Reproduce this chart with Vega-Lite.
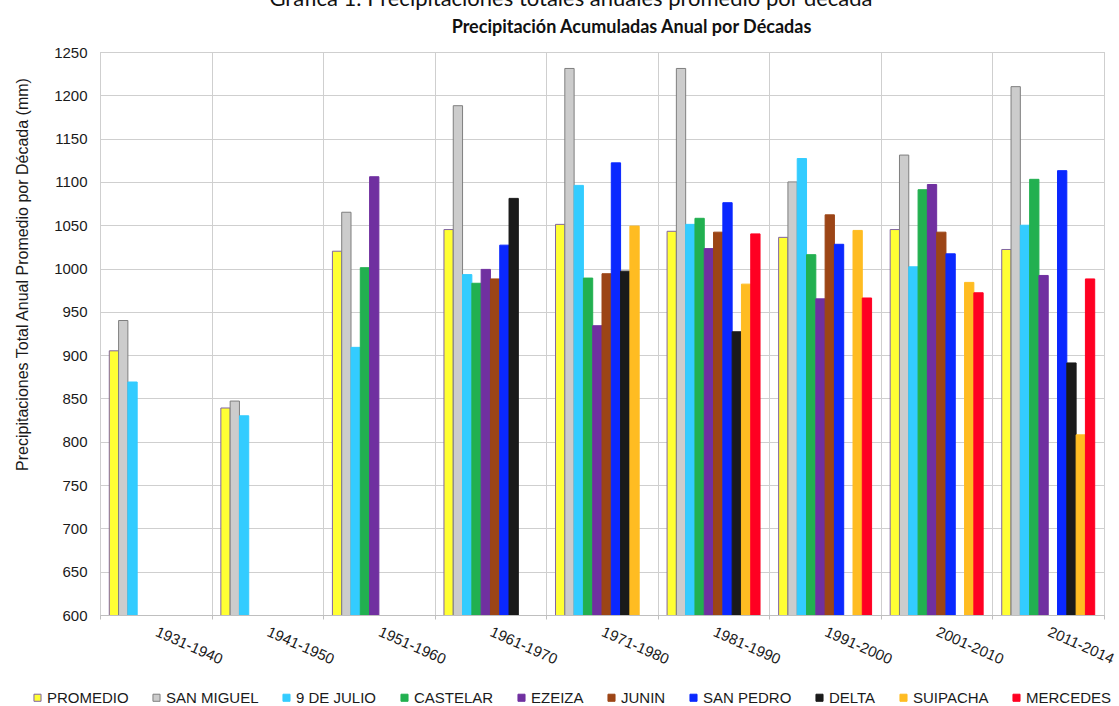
{
  "$schema": "https://vega.github.io/schema/vega-lite/v6.json",
  "autosize": {"type": "none"},
  "width": 1004,
  "height": 563,
  "padding": {"left": 100, "top": 52, "right": 15, "bottom": 91},
  "background": "white",
  "title": {
    "text": "Gráfica 1. Precipitaciones totales anuales promedio por década",
    "font": "Lato",
    "fontSize": 22,
    "fontWeight": "normal",
    "color": "#111111",
    "anchor": "middle",
    "frame": "group",
    "dx": -31,
    "offset": 7
  },
  "config": {
    "view": {"stroke": "#C4C4C4", "strokeWidth": 1},
    "axis": {
      "labelFont": "Liberation Sans",
      "titleFont": "Liberation Sans",
      "labelColor": "#1a1a1a",
      "titleColor": "#1a1a1a",
      "gridColor": "#CFCFCF",
      "gridWidth": 1,
      "domainColor": "#BFBFBF",
      "tickColor": "#BFBFBF"
    }
  },
  "data": {
    "values": [
      {"Decada": "1931-1940", "Serie": "PROMEDIO", "Valor": 905},
      {"Decada": "1931-1940", "Serie": "SAN MIGUEL", "Valor": 940},
      {"Decada": "1931-1940", "Serie": "9 DE JULIO", "Valor": 869},
      {"Decada": "1941-1950", "Serie": "PROMEDIO", "Valor": 839},
      {"Decada": "1941-1950", "Serie": "SAN MIGUEL", "Valor": 847},
      {"Decada": "1941-1950", "Serie": "9 DE JULIO", "Valor": 830},
      {"Decada": "1951-1960", "Serie": "PROMEDIO", "Valor": 1020},
      {"Decada": "1951-1960", "Serie": "SAN MIGUEL", "Valor": 1065},
      {"Decada": "1951-1960", "Serie": "9 DE JULIO", "Valor": 909},
      {"Decada": "1951-1960", "Serie": "CASTELAR", "Valor": 1001},
      {"Decada": "1951-1960", "Serie": "EZEIZA", "Valor": 1106},
      {"Decada": "1961-1970", "Serie": "PROMEDIO", "Valor": 1045},
      {"Decada": "1961-1970", "Serie": "SAN MIGUEL", "Valor": 1188},
      {"Decada": "1961-1970", "Serie": "9 DE JULIO", "Valor": 993},
      {"Decada": "1961-1970", "Serie": "CASTELAR", "Valor": 983},
      {"Decada": "1961-1970", "Serie": "EZEIZA", "Valor": 999},
      {"Decada": "1961-1970", "Serie": "JUNIN", "Valor": 988},
      {"Decada": "1961-1970", "Serie": "SAN PEDRO", "Valor": 1027},
      {"Decada": "1961-1970", "Serie": "DELTA", "Valor": 1081},
      {"Decada": "1971-1980", "Serie": "PROMEDIO", "Valor": 1051},
      {"Decada": "1971-1980", "Serie": "SAN MIGUEL", "Valor": 1231},
      {"Decada": "1971-1980", "Serie": "9 DE JULIO", "Valor": 1096},
      {"Decada": "1971-1980", "Serie": "CASTELAR", "Valor": 989},
      {"Decada": "1971-1980", "Serie": "EZEIZA", "Valor": 934},
      {"Decada": "1971-1980", "Serie": "JUNIN", "Valor": 994},
      {"Decada": "1971-1980", "Serie": "SAN PEDRO", "Valor": 1122},
      {"Decada": "1971-1980", "Serie": "DELTA", "Valor": 997},
      {"Decada": "1971-1980", "Serie": "SUIPACHA", "Valor": 1049},
      {"Decada": "1981-1990", "Serie": "PROMEDIO", "Valor": 1043},
      {"Decada": "1981-1990", "Serie": "SAN MIGUEL", "Valor": 1231},
      {"Decada": "1981-1990", "Serie": "9 DE JULIO", "Valor": 1051},
      {"Decada": "1981-1990", "Serie": "CASTELAR", "Valor": 1058},
      {"Decada": "1981-1990", "Serie": "EZEIZA", "Valor": 1023},
      {"Decada": "1981-1990", "Serie": "JUNIN", "Valor": 1042},
      {"Decada": "1981-1990", "Serie": "SAN PEDRO", "Valor": 1076},
      {"Decada": "1981-1990", "Serie": "DELTA", "Valor": 927},
      {"Decada": "1981-1990", "Serie": "SUIPACHA", "Valor": 982},
      {"Decada": "1981-1990", "Serie": "MERCEDES", "Valor": 1040},
      {"Decada": "1991-2000", "Serie": "PROMEDIO", "Valor": 1036},
      {"Decada": "1991-2000", "Serie": "SAN MIGUEL", "Valor": 1100},
      {"Decada": "1991-2000", "Serie": "9 DE JULIO", "Valor": 1127},
      {"Decada": "1991-2000", "Serie": "CASTELAR", "Valor": 1016},
      {"Decada": "1991-2000", "Serie": "EZEIZA", "Valor": 965},
      {"Decada": "1991-2000", "Serie": "JUNIN", "Valor": 1062},
      {"Decada": "1991-2000", "Serie": "SAN PEDRO", "Valor": 1028},
      {"Decada": "1991-2000", "Serie": "SUIPACHA", "Valor": 1044},
      {"Decada": "1991-2000", "Serie": "MERCEDES", "Valor": 966},
      {"Decada": "2001-2010", "Serie": "PROMEDIO", "Valor": 1045},
      {"Decada": "2001-2010", "Serie": "SAN MIGUEL", "Valor": 1131},
      {"Decada": "2001-2010", "Serie": "9 DE JULIO", "Valor": 1002},
      {"Decada": "2001-2010", "Serie": "CASTELAR", "Valor": 1091},
      {"Decada": "2001-2010", "Serie": "EZEIZA", "Valor": 1097},
      {"Decada": "2001-2010", "Serie": "JUNIN", "Valor": 1042},
      {"Decada": "2001-2010", "Serie": "SAN PEDRO", "Valor": 1017},
      {"Decada": "2001-2010", "Serie": "SUIPACHA", "Valor": 984},
      {"Decada": "2001-2010", "Serie": "MERCEDES", "Valor": 972},
      {"Decada": "2011-2014", "Serie": "PROMEDIO", "Valor": 1022},
      {"Decada": "2011-2014", "Serie": "SAN MIGUEL", "Valor": 1210},
      {"Decada": "2011-2014", "Serie": "9 DE JULIO", "Valor": 1050},
      {"Decada": "2011-2014", "Serie": "CASTELAR", "Valor": 1103},
      {"Decada": "2011-2014", "Serie": "EZEIZA", "Valor": 992},
      {"Decada": "2011-2014", "Serie": "SAN PEDRO", "Valor": 1113},
      {"Decada": "2011-2014", "Serie": "DELTA", "Valor": 891},
      {"Decada": "2011-2014", "Serie": "SUIPACHA", "Valor": 808},
      {"Decada": "2011-2014", "Serie": "MERCEDES", "Valor": 988}
    ]
  },
  "mark": {"type": "bar", "strokeWidth": 1, "clip": true},
  "encoding": {
    "x": {
      "field": "Decada",
      "type": "nominal",
      "sort": null,
      "scale": {"paddingInner": 0, "paddingOuter": 0},
      "axis": {
        "title": "Precipitación Acumuladas Anual por Décadas",
        "titleFont": "Lato",
        "titleFontSize": 18,
        "titleFontWeight": "bold",
        "titleColor": "#111111",
        "titleX": 531,
        "titleY": -588,
        "titleAlign": "center",
        "titleBaseline": "middle",
        "labelAngle": 24,
        "labelAlign": "left",
        "labelBaseline": "top",
        "labelFontSize": 15,
        "labelPadding": 5,
        "labelOffset": 3,
        "tickBand": "extent",
        "ticks": true,
        "tickSize": 4,
        "grid": true,
        "domain": true
      }
    },
    "xOffset": {
      "field": "Serie",
      "type": "nominal",
      "sort": ["PROMEDIO", "SAN MIGUEL", "9 DE JULIO", "CASTELAR", "EZEIZA", "JUNIN", "SAN PEDRO", "DELTA", "SUIPACHA", "MERCEDES"],
      "scale": {
        "domain": ["PROMEDIO", "SAN MIGUEL", "9 DE JULIO", "CASTELAR", "EZEIZA", "JUNIN", "SAN PEDRO", "DELTA", "SUIPACHA", "MERCEDES"],
        "paddingInner": 0,
        "paddingOuter": 1.5
      }
    },
    "y": {
      "field": "Valor",
      "type": "quantitative",
      "scale": {"domain": [600, 1250], "zero": false, "nice": false},
      "axis": {
        "title": "Precipitaciones Total Anual Promedio por Década (mm)",
        "titleFontSize": 16,
        "titleFontWeight": "normal",
        "titleAngle": -90,
        "titleX": -78,
        "titleY": 222,
        "titleAlign": "center",
        "titleBaseline": "middle",
        "values": [600, 650, 700, 750, 800, 850, 900, 950, 1000, 1050, 1100, 1150, 1200, 1250],
        "format": "d",
        "labelFontSize": 15,
        "labelPadding": 13,
        "ticks": false,
        "domain": false,
        "grid": true
      }
    },
    "fill": {
      "field": "Serie",
      "type": "nominal",
      "scale": {
        "domain": ["PROMEDIO", "SAN MIGUEL", "9 DE JULIO", "CASTELAR", "EZEIZA", "JUNIN", "SAN PEDRO", "DELTA", "SUIPACHA", "MERCEDES"],
        "range": ["#FFFF33", "#CCCCCC", "#33CCFF", "#22B050", "#7030A0", "#9C4516", "#0A28FF", "#1A1A1A", "#FFBC22", "#FF0022"]
      },
      "legend": {
        "title": null,
        "orient": "none",
        "legendX": -70,
        "legendY": 638,
        "direction": "horizontal",
        "columns": 10,
        "symbolType": "square",
        "symbolSize": 50,
        "symbolStrokeWidth": 1,
        "labelFont": "Liberation Sans",
        "labelFontSize": 15,
        "labelColor": "#1a1a1a",
        "labelOffset": 2,
        "columnPadding": 20
      }
    },
    "stroke": {
      "field": "Serie",
      "type": "nominal",
      "scale": {
        "domain": ["PROMEDIO", "SAN MIGUEL", "9 DE JULIO", "CASTELAR", "EZEIZA", "JUNIN", "SAN PEDRO", "DELTA", "SUIPACHA", "MERCEDES"],
        "range": ["#8064A2", "#7F7F7F", "#33CCFF", "#22B050", "#7030A0", "#9C4516", "#0A28FF", "#1A1A1A", "#FFBC22", "#FF0022"]
      }
    }
  }
}
